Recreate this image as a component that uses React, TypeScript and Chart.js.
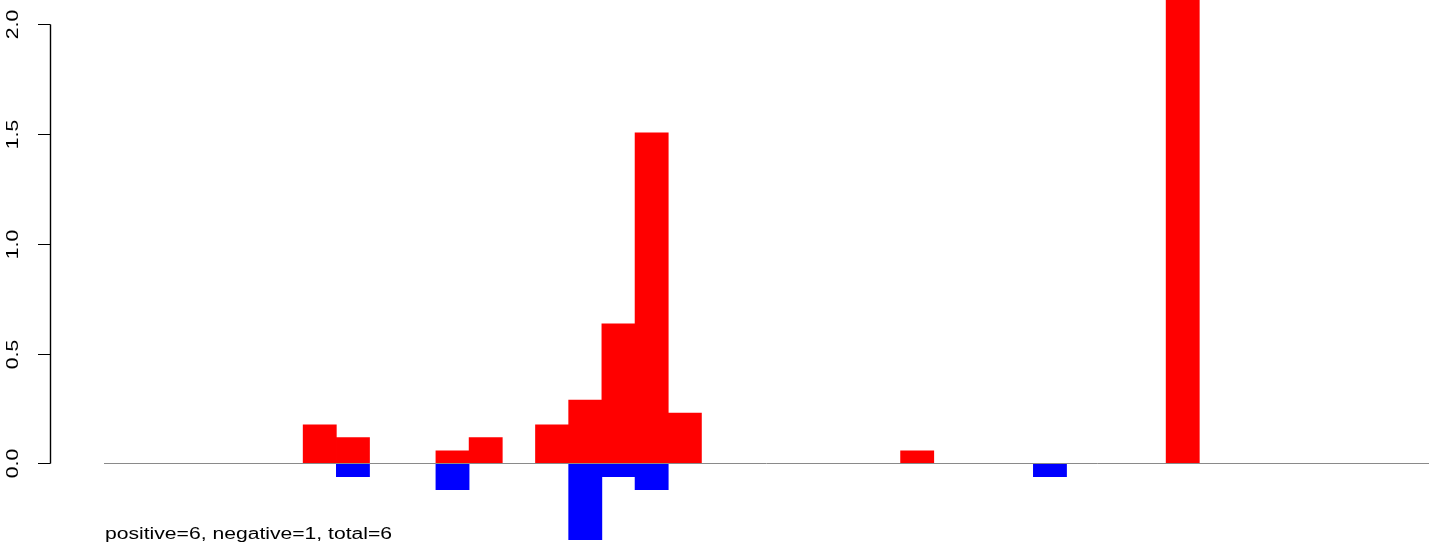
import React, { useEffect, useRef } from "react";
import { Chart, registerables } from "chart.js";

Chart.register(...registerables);

// Bar slot positions (index along x) and values (null = no bar)
const slots = [6, 7, 10, 11, 13, 14, 15, 16, 17, 24, 28, 32];
const positiveValues = [0.175, 0.117, 0.057, 0.117, 0.175, 0.288, 0.635, 1.505, 0.229, 0.057, null, 2.4];
const negativeValues = [null, -0.061, -0.12, null, null, -0.348, -0.061, -0.12, null, null, -0.061, null];
const yTickValues = [0, 0.5, 1.0, 1.5, 2.0];
const yTickLabels = ["0.0", "0.5", "1.0", "1.5", "2.0"];
const footnote = "positive=6, negative=1, total=6";

const X_STRETCH = 1.32;

const rAxisPlugin = {
  id: "rAxis",
  afterDatasetsDraw(chart: any) {
    const ctx = chart.ctx as CanvasRenderingContext2D;
    const y = chart.scales.y;
    const area = chart.chartArea;
    const y0 = y.getPixelForValue(0);
    ctx.save();
    ctx.strokeStyle = "#8a8a8a";
    ctx.lineWidth = 1;
    ctx.beginPath();
    ctx.moveTo(area.left, Math.round(y0) + 0.5);
    ctx.lineTo(area.right, Math.round(y0) + 0.5);
    ctx.stroke();
    ctx.restore();
  },
  afterDraw(chart: any) {
    const ctx = chart.ctx as CanvasRenderingContext2D;
    const y = chart.scales.y;
    const axisX = 50.5;
    const top = y.getPixelForValue(yTickValues[yTickValues.length - 1]);
    const bottom = y.getPixelForValue(yTickValues[0]);
    ctx.save();
    ctx.strokeStyle = "#000000";
    ctx.lineWidth = 1.4;
    ctx.beginPath();
    ctx.moveTo(axisX, Math.round(top) + 0.5);
    ctx.lineTo(axisX, Math.round(bottom) + 0.5);
    ctx.stroke();
    ctx.lineWidth = 1;
    yTickValues.forEach((v, i) => {
      const py = Math.round(y.getPixelForValue(v)) + 0.5;
      ctx.beginPath();
      ctx.moveTo(38, py);
      ctx.lineTo(axisX, py);
      ctx.stroke();
      ctx.save();
      ctx.translate(18, py);
      ctx.rotate(-Math.PI / 2);
      ctx.scale(X_STRETCH, 1);
      ctx.fillStyle = "#000000";
      ctx.font = "16px 'Liberation Sans', Arial, sans-serif";
      ctx.textAlign = "center";
      ctx.textBaseline = "alphabetic";
      ctx.fillText(yTickLabels[i], 0, 0);
      ctx.restore();
    });
    ctx.save();
    ctx.translate(105, 539);
    ctx.scale(X_STRETCH, 1);
    ctx.fillStyle = "#000000";
    ctx.font = "16px 'Liberation Sans', Arial, sans-serif";
    ctx.textAlign = "left";
    ctx.textBaseline = "alphabetic";
    ctx.fillText(footnote, 0, 0);
    ctx.restore();
    ctx.restore();
  },
};

export default function App() {
  const canvasRef = useRef<HTMLCanvasElement | null>(null);

  useEffect(() => {
    if (!canvasRef.current) return;
    const chart = new Chart(canvasRef.current, {
      type: "bar",
      data: {
        datasets: [
          {
            label: "positive",
            data: slots.map((s, i) => ({ x: s + 0.5, y: positiveValues[i] })),
            backgroundColor: "#ff0000",
            borderWidth: 0,
            barPercentage: 1,
            categoryPercentage: 1,
          },
          {
            label: "negative",
            data: slots.map((s, i) => ({ x: s + 0.5, y: negativeValues[i] })),
            backgroundColor: "#0000ff",
            borderWidth: 0,
            barPercentage: 1,
            categoryPercentage: 1,
          },
        ],
      },
      options: {
        responsive: false,
        animation: false,
        maintainAspectRatio: false,
        layout: { padding: { left: 104, right: 0, top: 0, bottom: 0 } },
        plugins: {
          legend: { display: false },
          tooltip: { enabled: false },
          title: { display: false },
        },
        scales: {
          x: {
            type: "linear",
            display: false,
            stacked: true,
            offset: false,
            grid: { offset: false },
            min: 0,
            max: 39.92,
            ticks: { stepSize: 10 },
          },
          y: {
            display: false,
            stacked: true,
            min: -0.3677,
            max: 2.1107,
          },
        },
      },
      plugins: [rAxisPlugin],
    });
    return () => chart.destroy();
  }, []);

  return (
    <div style={{ position: "fixed", left: 0, top: 0, width: 1429, height: 544, background: "#ffffff" }}>
      <canvas ref={canvasRef} width={1429} height={544} style={{ display: "block" }} />
    </div>
  );
}
